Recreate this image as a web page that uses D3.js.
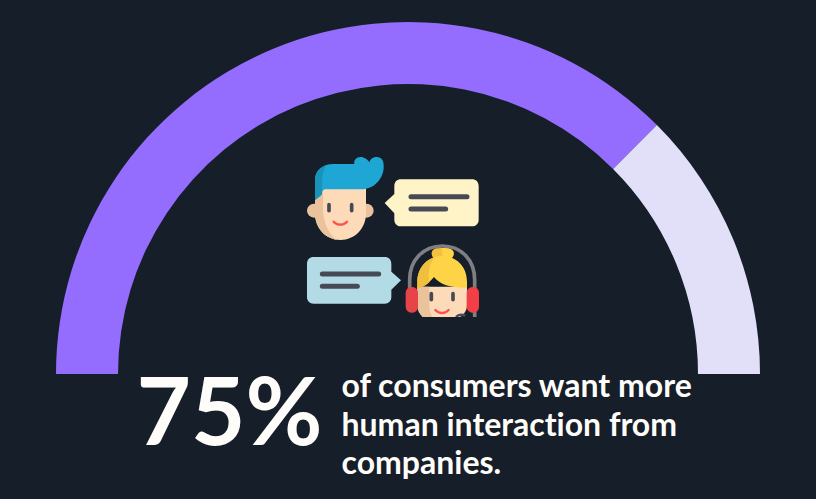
<!DOCTYPE html>
<html><head><meta charset="utf-8">
<script src="https://cdnjs.cloudflare.com/ajax/libs/d3/7.8.5/d3.min.js"></script>
<style>html,body{margin:0;padding:0;background:#161e2a;overflow:hidden}svg{display:block}text{font-variant-ligatures:none}</style>
</head><body><svg id="c" width="816" height="499"></svg>
<script>
const segmentLabels = ["want human interaction", "other"];
const segmentValues = [75, 25];
const segmentColors = ["#946dff", "#e2dff9"];
const bigLabel = "75%";
const captionLines = ["of consumers want more", "human interaction from", "companies."];

const svg = d3.select("#c");
const cx = 408, cy = 374, rOuter = 352, rInner = 290;
const pie = d3.pie().sort(null).startAngle(-Math.PI/2).endAngle(Math.PI/2);
const arc = d3.arc().innerRadius(rInner).outerRadius(rOuter);
svg.append("g").attr("transform",`translate(${cx},${cy})`)
  .selectAll("path").data(pie(segmentValues)).join("path")
  .attr("d",arc).attr("fill",(d,i)=>segmentColors[i]);

// Decorative icon, coordinates in 3x space
const ic = svg.append("g").attr("transform","translate(290,145) scale(0.33333)");
const p=(d,f)=>ic.append("path").attr("d",d).attr("fill",f);
const c=(x,y,rx,ry,f)=>ic.append("ellipse").attr("cx",x).attr("cy",y).attr("rx",rx).attr("ry",ry).attr("fill",f);
const stroke=(d,col,w)=>ic.append("path").attr("d",d).attr("fill","none").attr("stroke",col).attr("stroke-width",w).attr("stroke-linecap","round");

// man
c(72,197,21,21,"#eac39d"); c(230,197,21,21,"#eac39d");
p("M75 120H228V205C228 250 195 285 151 285C107 285 75 250 75 205Z","#fddbb8");
p("M75 165V205C75 250 107 285 151 285C146 285 140 283 136 281C112 262 99 225 99 190V135L75 125Z","#eac39d");
stroke("M117 179V197","#474a54",11); stroke("M185 179V197","#474a54",11);
stroke("M131 230C142 242 160 242 171 230","#ff5050",7);
p("M75 165V105C75 75 100 57 130 57H193C190 42 205 33 218 37C228 40 236 47 238 52C242 38 258 33 270 38C280 43 282 55 281 70C278 105 250 133 215 133H105C95 135 97 150 75 165Z","#1ea6d4");
p("M75 165V105C75 80 92 65 110 60C98 75 96 95 96 133V148C90 155 84 160 75 165Z","#1a93b8");
// yellow bubble
p("M333 103H546C558 103 566 111 566 123V224C566 236 558 244 546 244H333C321 244 313 236 313 224V205L284 174L313 147V123C313 111 321 103 333 103Z","#fff3c8");
stroke("M363 155H531","#474a54",15); stroke("M363 192H467","#474a54",15);
// blue bubble
p("M71 336H284C296 336 304 344 304 356V380L333 406L304 434V456C304 468 296 476 284 476H71C59 476 51 468 51 456V356C51 344 59 336 71 336Z","#b3dbe6");
stroke("M97 387H266","#474a54",15); stroke("M97 424H202","#474a54",15);
// woman
ic.append("defs").append("clipPath").attr("id","w").append("rect").attr("x",300).attr("y",280).attr("width",300).attr("height",236);
const w=ic.append("g").attr("clip-path","url(#w)");
const wp=(d,f)=>w.append("path").attr("d",d).attr("fill",f);
w.append("path").attr("d","M359 440V405C359 345 400 303 457 303C514 303 554 345 554 405V530").attr("fill","none").attr("stroke","#7f7f83").attr("stroke-width",11);
wp("M425 325C425 310 440 309 457 309C475 309 491 312 491 325C491 340 475 350 457 350C440 350 425 340 425 325Z","#f3c13c");
wp("M457 309C475 309 491 312 491 325C491 340 475 350 457 340Z","#ffd346");
wp("M382 425H531V480C531 510 500 530 457 530C414 530 382 510 382 480Z","#fddbb8");
wp("M382 425H418V480C418 500 425 520 440 530C405 530 382 510 382 480Z","#eac39d");
wp("M382 430V410C382 365 415 333 457 333C499 333 531 365 531 410V428C490 430 450 420 432 396C420 410 405 425 382 430Z","#ffd346");
wp("M382 430V410C382 375 405 345 434 337C418 355 414 380 418 412C408 422 395 428 382 430Z","#efbf3d");
w.append("path").attr("d","M424 446V464M489 446V464").attr("stroke","#474a54").attr("stroke-width",11).attr("stroke-linecap","round");
w.append("path").attr("d","M436 495C447 507 465 507 476 495").attr("fill","none").attr("stroke","#ff5050").attr("stroke-width",7).attr("stroke-linecap","round");
w.append("rect").attr("x",347).attr("y",426).attr("width",37).attr("height",77).attr("rx",17).attr("fill","#e8424a");
w.append("rect").attr("x",530).attr("y",426).attr("width",37).attr("height",77).attr("rx",17).attr("fill","#f23f45");
w.append("path").attr("d","M498 516C505 508 516 508 526 512").attr("fill","none").attr("stroke","#474a54").attr("stroke-width",7);

svg.append("text").attr("x",136.5).attr("y",445).attr("font-family","Lato").attr("font-weight",700)
  .attr("font-size",94).attr("fill","#fffdf9").text(bigLabel);
svg.append("g").selectAll("text").data(captionLines).join("text")
  .attr("x",341.5).attr("y",(d,i)=>397+i*38.5).attr("font-family","Lato").attr("font-weight",700)
  .attr("font-size",32).attr("fill","#fffdf9").text(d=>d);
</script></body></html>
